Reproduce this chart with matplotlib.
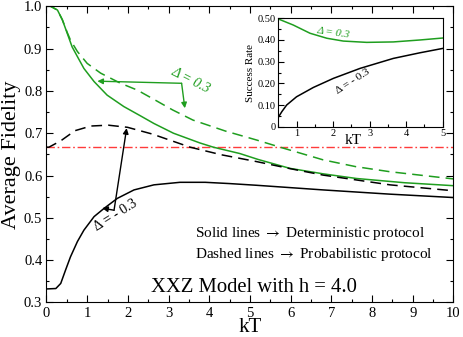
import matplotlib
matplotlib.use("Agg")
import matplotlib.pyplot as plt
from matplotlib.ticker import MultipleLocator, FuncFormatter

plt.rcParams['font.family'] = ['Liberation Serif', 'DejaVu Serif']
plt.rcParams['mathtext.fontset'] = 'stix'

GREEN = '#1f9e1f'
RED = '#ff3b3b'

# main panel: average fidelity vs kT
kt_pos_solid = [0, 0.1, 0.27, 0.39, 0.51, 0.63, 0.76, 0.92, 1.17, 1.49, 1.9, 2.31, 2.64,
                3.12, 3.77, 4.1, 4.75, 5.2, 5.98, 6.8, 7.62, 8.8, 10]
fid_pos_solid = [1.0, 1.0, 0.991, 0.968, 0.936, 0.904, 0.881, 0.853, 0.822, 0.79, 0.763, 0.741, 0.723,
                 0.70, 0.677, 0.667, 0.652, 0.638, 0.617, 0.604, 0.593, 0.583, 0.576]

kt_pos_dash = [0, 0.1, 0.27, 0.39, 0.51, 0.59, 0.76, 1.0, 1.33, 1.82, 2.23, 2.64, 3.1, 3.6,
               4.4, 5.16, 5.74, 6.8, 7.6, 8.44, 10]
fid_pos_dash = [1.0, 1.0, 0.991, 0.968, 0.938, 0.920, 0.893, 0.865, 0.842, 0.818, 0.802, 0.780, 0.755, 0.731,
                0.705, 0.684, 0.667, 0.637, 0.621, 0.609, 0.592]

kt_neg_solid = [0, 0.23, 0.35, 0.47, 0.59, 0.76, 0.92, 1.17, 1.41, 1.74, 2.15, 2.64, 3.28,
                3.9, 4.5, 5.16, 6.8, 8.44, 10]
fid_neg_solid = [0.332, 0.333, 0.345, 0.377, 0.408, 0.444, 0.471, 0.503, 0.522, 0.546, 0.566, 0.578, 0.584,
                 0.584, 0.581, 0.577, 0.566, 0.556, 0.548]

kt_neg_dash = [0, 0.06, 0.35, 0.7, 1.09, 1.52, 1.99, 2.6, 3.53, 4.3, 5.16, 6.0, 6.8, 8.44, 10]
fid_neg_dash = [0.667, 0.667, 0.682, 0.706, 0.717, 0.719, 0.714, 0.698, 0.667, 0.649, 0.633, 0.616, 0.601, 0.578, 0.564]

kt_classical = [0, 10]
fid_classical = [2 / 3, 2 / 3]

# inset: success rate vs kT
kt_inset_pos = [0.5, 0.91, 1.37, 1.83, 2.28, 2.92, 3.65, 4.38, 5]
rate_pos = [0.497, 0.469, 0.431, 0.408, 0.395, 0.389, 0.391, 0.40, 0.409]

kt_inset_neg = [0.5, 0.6, 0.73, 1.0, 1.46, 2.01, 2.74, 3.65, 4.38, 5]
rate_neg = [0.043, 0.07, 0.10, 0.138, 0.181, 0.223, 0.269, 0.315, 0.341, 0.361]

fig = plt.figure(figsize=(4.63, 3.37), dpi=100)
ax = fig.add_axes([0.1004, 0.1024, 0.879, 0.879])

lw = 1.1
ax.plot(kt_classical, fid_classical, color=RED, lw=1.0, dashes=(6, 2, 1.2, 2))
ax.plot(kt_pos_solid, fid_pos_solid, color=GREEN, lw=lw)
ax.plot(kt_pos_dash, fid_pos_dash, color=GREEN, lw=lw, dashes=(7, 4))
ax.plot(kt_neg_dash, fid_neg_dash, color='black', lw=lw, dashes=(7, 4))
ax.plot(kt_neg_solid, fid_neg_solid, color='black', lw=lw)

ax.set_xlim(0, 10)
ax.set_ylim(0.3, 1.0)
ax.xaxis.set_major_locator(MultipleLocator(1))
ax.xaxis.set_minor_locator(MultipleLocator(0.5))
ax.yaxis.set_major_locator(MultipleLocator(0.1))
ax.yaxis.set_minor_locator(MultipleLocator(0.05))
ax.yaxis.set_major_formatter(FuncFormatter(lambda v, p: '%.1f' % v))
ax.tick_params(which='both', direction='in', top=True, right=True, width=0.8)
ax.tick_params(which='major', length=5, labelsize=10.5, pad=3)
ax.tick_params(which='minor', length=2.5)
for s in ax.spines.values():
    s.set_linewidth(0.8)
ax.set_xlabel('kT', fontsize=15, labelpad=-1)
ax.set_ylabel('Average Fidelity', fontsize=16, labelpad=2)

# annotations
arr = dict(arrowstyle='-|>', lw=1.0, mutation_scale=8, shrinkA=0, shrinkB=0)
ax.text(3.55, 0.826, '\u0394 = 0.3', color=GREEN, fontsize=10, style='italic',
        rotation=-27, ha='center', va='center')
ax.annotate('', xy=(1.25, 0.823), xytext=(3.32, 0.818), arrowprops=dict(arr, color=GREEN))
ax.annotate('', xy=(3.40, 0.759), xytext=(3.32, 0.818), arrowprops=dict(arr, color=GREEN))

ax.text(1.71, 0.507, '\u0394 = - 0.3', color='black', fontsize=10,
        rotation=32, ha='center', va='center')
ax.annotate('', xy=(1.37, 0.523), xytext=(1.66, 0.518), arrowprops=dict(arr, color='black'))
ax.annotate('', xy=(1.97, 0.712), xytext=(1.66, 0.518), arrowprops=dict(arr, color='black'))

ax.text(3.65, 0.455, r'Solid lines $\rightarrow$ Deterministic protocol', fontsize=11, va='baseline')
ax.text(3.65, 0.404, r'Dashed lines $\rightarrow$ Probabilistic protocol', fontsize=11, va='baseline')
ax.text(2.58, 0.325, 'XXZ Model with h = 4.0', fontsize=14.9, va='baseline')

# inset
ins = fig.add_axes([0.601, 0.624, 0.355, 0.3217])
ins.plot(kt_inset_pos, rate_pos, color=GREEN, lw=lw)
ins.plot(kt_inset_neg, rate_neg, color='black', lw=lw)
ins.set_xlim(0.5, 5)
ins.set_ylim(0, 0.5)
ins.xaxis.set_major_locator(MultipleLocator(1))
ins.xaxis.set_minor_locator(MultipleLocator(0.5))
ins.yaxis.set_major_locator(MultipleLocator(0.1))
ins.yaxis.set_minor_locator(MultipleLocator(0.05))
ins.yaxis.set_major_formatter(FuncFormatter(lambda v, p: '0' if abs(v) < 1e-9 else '%.2f' % v))
ins.tick_params(which='both', direction='in', width=0.8)
ins.tick_params(which='major', length=4, labelsize=7.5, pad=2)
ins.tick_params(which='minor', length=2)
for s in ins.spines.values():
    s.set_linewidth(0.8)
ins.set_xlabel('kT', fontsize=11)
ins.xaxis.set_label_coords(0.454, -0.07)
ins.set_ylabel('Success Rate', fontsize=8, labelpad=2)
ins.text(2.0, 0.432, '\u0394 = 0.3', color=GREEN, fontsize=8, style='italic',
         rotation=-8, ha='center', va='center')
ins.text(2.54, 0.21, '\u0394 = - 0.3', color='black', fontsize=8,
         rotation=33, ha='center', va='center')

fig.savefig('out.png', dpi=100)
